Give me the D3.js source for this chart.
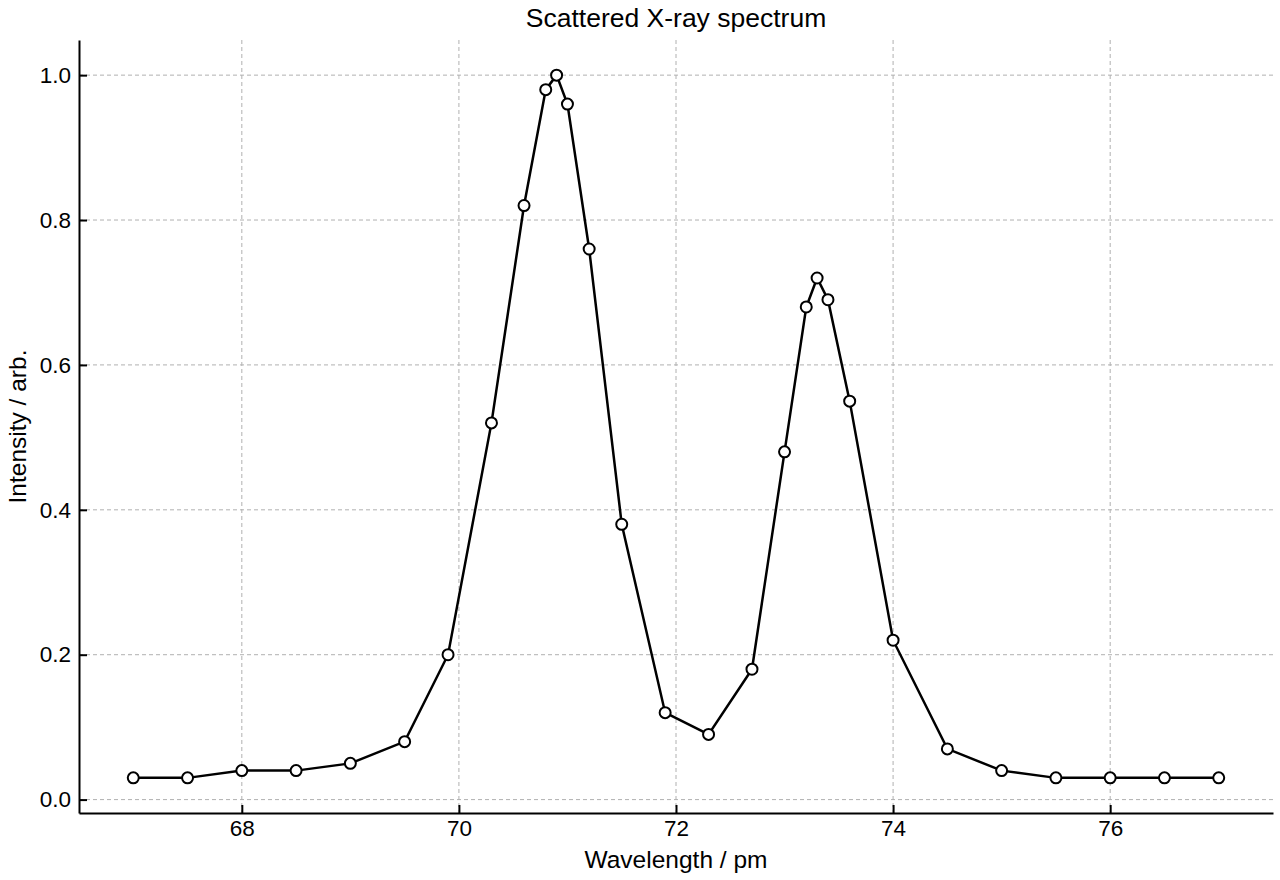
<!DOCTYPE html>
<html>
<head>
<meta charset="utf-8">
<script src="https://cdn.jsdelivr.net/npm/d3@7/dist/d3.min.js"></script>
<style>
  html, body { margin: 0; padding: 0; background: #fff; }
  svg text { font-family: "Liberation Sans", Arial, Helvetica, sans-serif; fill: #000; }
</style>
</head>
<body>
<div id="chart"></div>
<script>
// wavelength (pm) and intensity (arb.)
const wavelength = [67, 67.5, 68, 68.5, 69, 69.5, 69.9, 70.3, 70.6, 70.8, 70.9, 71.0, 71.2, 71.5, 71.9,
  72.3, 72.7, 73.0, 73.2, 73.3, 73.4, 73.6, 74.0, 74.5, 75, 75.5, 76, 76.5, 77];
const intensity = [0.03, 0.03, 0.04, 0.04, 0.05, 0.08, 0.20, 0.52, 0.82, 0.98, 1.00, 0.96, 0.76, 0.38, 0.12,
  0.09, 0.18, 0.48, 0.68, 0.72, 0.69, 0.55, 0.22, 0.07, 0.04, 0.03, 0.03, 0.03, 0.03];
const xTicks = [68, 70, 72, 74, 76];
const yTicks = [0.0, 0.2, 0.4, 0.6, 0.8, 1.0];

const width = 1280, height = 880;
const margin = { top: 40, right: 7, bottom: 67, left: 79 };

const data = wavelength.map((w, i) => ({ w, v: intensity[i] }));

const svg = d3.select('#chart').append('svg').attr('width', width).attr('height', height);

const x = d3.scaleLinear().domain([66.5, 77.5]).range([margin.left, width - margin.right]);
const y = d3.scaleLinear().domain([-0.0185, 1.0485]).range([height - margin.bottom, margin.top]);

// grid
svg.append('g').selectAll('line').data(xTicks).enter().append('line')
  .attr('x1', d => x(d)).attr('x2', d => x(d))
  .attr('y1', margin.top).attr('y2', height - margin.bottom)
  .attr('stroke', '#b0b0b0').attr('stroke-width', 1).attr('stroke-dasharray', '4,3');
svg.append('g').selectAll('line').data(yTicks).enter().append('line')
  .attr('x1', margin.left).attr('x2', width - margin.right)
  .attr('y1', d => y(d)).attr('y2', d => y(d))
  .attr('stroke', '#b0b0b0').attr('stroke-width', 1).attr('stroke-dasharray', '4,3');

// axes, ticks pointing inward
const xAxis = svg.append('g').attr('transform', `translate(0,${height - margin.bottom})`)
  .call(d3.axisBottom(x).tickValues(xTicks).tickFormat(d3.format('d')).tickSizeInner(-8).tickSizeOuter(0).tickPadding(7));
const yAxis = svg.append('g').attr('transform', `translate(${margin.left},0)`)
  .call(d3.axisLeft(y).tickValues(yTicks).tickFormat(d3.format('.1f')).tickSizeInner(-8).tickSizeOuter(0).tickPadding(8));
[xAxis, yAxis].forEach(g => {
  g.select('.domain').attr('stroke', '#000').attr('stroke-width', 2);
  g.selectAll('.tick line').attr('stroke', '#000').attr('stroke-width', 2);
  g.selectAll('.tick text').style('font-size', '22.5px');
});

// line and markers
svg.append('path').datum(data)
  .attr('fill', 'none').attr('stroke', '#000').attr('stroke-width', 2.5)
  .attr('d', d3.line().x(d => x(d.w)).y(d => y(d.v)));
svg.selectAll('circle.pt').data(data).enter().append('circle')
  .attr('class', 'pt')
  .attr('cx', d => x(d.w)).attr('cy', d => y(d.v)).attr('r', 5.5)
  .attr('fill', '#fff').attr('stroke', '#000').attr('stroke-width', 2);

// labels
svg.append('text').attr('x', (margin.left + width - margin.right) / 2).attr('y', 27)
  .attr('text-anchor', 'middle').style('font-size', '26.5px').text('Scattered X-ray spectrum');
svg.append('text').attr('x', (margin.left + width - margin.right) / 2).attr('y', 868)
  .attr('text-anchor', 'middle').style('font-size', '24.5px').text('Wavelength / pm');
svg.append('text').attr('transform', `translate(26,${(margin.top + height - margin.bottom) / 2}) rotate(-90)`)
  .attr('text-anchor', 'middle').style('font-size', '24.5px').text('Intensity / arb.');
</script>
</body>
</html>
